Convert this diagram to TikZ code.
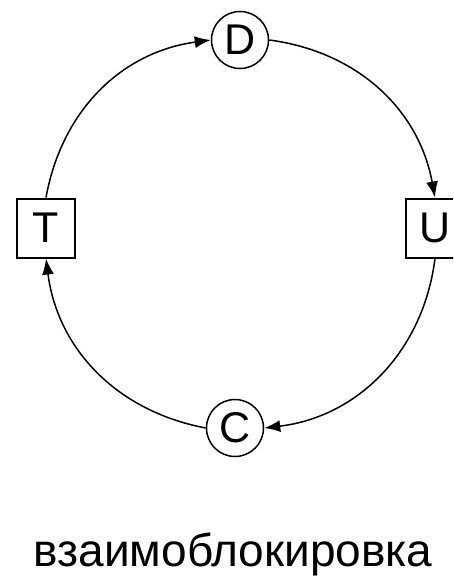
\documentclass[tikz,border=0pt]{standalone}
\usepackage{fontspec}
\setmainfont{Liberation Sans}
\usetikzlibrary{arrows.meta}
\begin{document}
\begin{tikzpicture}[x=1pt,y=-1pt,
  circnode/.style={draw,circle,line width=1.5pt,minimum size=57pt,inner sep=0pt,font=\fontsize{43}{43}\selectfont},
  boxnode/.style={draw,rectangle,line width=2pt,minimum width=58pt,minimum height=59pt,inner sep=0pt,font=\fontsize{43}{43}\selectfont},
  conn/.style={line width=1.5pt,-{Latex[length=16pt,width=12pt]}}]
\useasboundingbox (0,0) rectangle (453,576);
\clip (0,0) rectangle (453,576);
\node[circnode] (D) at (240,40) {D};
\node[boxnode] (U) at (435,228) {U};
\node[boxnode] (T) at (46,228) {T};
\node[circnode] (C) at (235,428) {C};
\node[font=\fontsize{46}{46}\selectfont,anchor=base,inner sep=0pt] (L) at (233,566) {взаимоблокировка};
\draw[conn] (T.north) to[bend left=36] (D.west);
\draw[conn] (D.east) to[bend left=36] (U.north);
\draw[conn] (U.south) to[bend left=38] (C.east);
\draw[conn] (C.west) to[bend left=36] (T.south);
\end{tikzpicture}
\end{document}
